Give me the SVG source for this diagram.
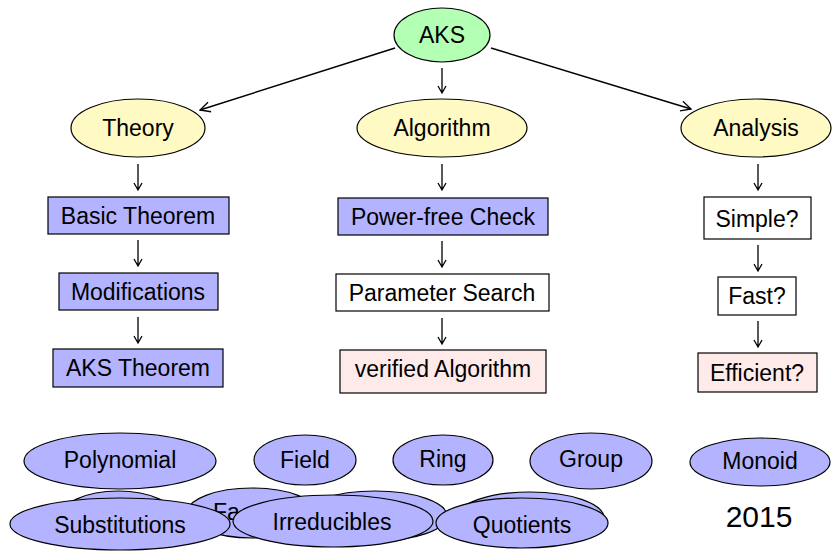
<svg xmlns="http://www.w3.org/2000/svg" width="832" height="551" viewBox="0 0 832 551">
<defs>
<marker id="ah" viewBox="0 0 12 12" refX="11" refY="6" markerWidth="12" markerHeight="12" markerUnits="userSpaceOnUse" orient="auto">
<path d="M1,1 L11,6 L1,11" fill="none" stroke="#000" stroke-width="1.3"/>
</marker>
</defs>
<style>
text{font-family:"Liberation Sans",Arial,sans-serif;font-size:23px;fill:#000;text-anchor:middle}
.g{fill:#b3ffb3;stroke:#000;stroke-width:1.2}
.y{fill:#fff9c4;stroke:#000;stroke-width:1.2}
.p{fill:#b3b3ff;stroke:#000;stroke-width:1.2}
.w{fill:#fff;stroke:#000;stroke-width:1.2}
.k{fill:#ffeaea;stroke:#000;stroke-width:1.2}
.c{fill:none;stroke:#000;stroke-width:1.5}
.v{fill:none;stroke:#000;stroke-width:1.3}
</style>
<g id="connectors">
<path class="c" d="M395,48 L200,110" marker-end="url(#ah)"/>
<path class="c" d="M491,48 L691,109" marker-end="url(#ah)"/>
<path class="v" d="M442,68 V93 M438,86 L442,93 L446,86"/>
<path class="v" d="M138,164 V190 M134,183 L138,190 L142,183"/>
<path class="v" d="M138,240 V266 M134,259 L138,266 L142,259"/>
<path class="v" d="M138,317 V343 M134,336 L138,343 L142,336"/>
<path class="v" d="M442,164 V190 M438,183 L442,190 L446,183"/>
<path class="v" d="M442,241 V267 M438,260 L442,267 L446,260"/>
<path class="v" d="M442,318 V344 M438,337 L442,344 L446,337"/>
<path class="v" d="M758,164 V190 M754,183 L758,190 L762,183"/>
<path class="v" d="M758,245 V271 M754,264 L758,271 L762,264"/>
<path class="v" d="M758,321 V347 M754,340 L758,347 L762,340"/>
</g>
<g id="aks"><ellipse class="g" cx="442" cy="35" rx="48" ry="27"/><text x="442" y="43">AKS</text></g>
<g id="theory"><ellipse class="y" cx="138" cy="128" rx="67" ry="29"/><text x="138" y="136">Theory</text></g>
<g id="algorithm"><ellipse class="y" cx="442" cy="128" rx="85" ry="29"/><text x="442" y="136">Algorithm</text></g>
<g id="analysis"><ellipse class="y" cx="756" cy="128" rx="75" ry="29"/><text x="756" y="136">Analysis</text></g>
<g id="basic"><rect class="p" x="48" y="197" width="181" height="37"/><text x="138" y="224">Basic Theorem</text></g>
<g id="modifications"><rect class="p" x="59" y="273" width="159" height="37"/><text x="138" y="300">Modifications</text></g>
<g id="akstheorem"><rect class="p" x="53" y="349" width="170" height="38"/><text x="138" y="376">AKS Theorem</text></g>
<g id="powerfree"><rect class="p" x="338" y="198" width="210" height="37"/><text x="443" y="225">Power-free Check</text></g>
<g id="paramsearch"><rect class="w" x="336" y="274" width="213" height="37"/><text x="442" y="301">Parameter Search</text></g>
<g id="verified"><rect class="k" x="340" y="350" width="206" height="43"/><text x="443" y="377">verified Algorithm</text></g>
<g id="simple"><rect class="w" x="704" y="197" width="107" height="42"/><text x="757" y="227">Simple?</text></g>
<g id="fast"><rect class="w" x="718" y="277" width="78" height="38"/><text x="757" y="304">Fast?</text></g>
<g id="efficient"><rect class="k" x="698" y="353" width="119" height="39"/><text x="757" y="381">Efficient?</text></g>
<g id="polynomial"><ellipse class="p" cx="120" cy="461" rx="96" ry="28"/><text x="120" y="468">Polynomial</text></g>
<g id="field"><ellipse class="p" cx="305" cy="460" rx="51" ry="25"/><text x="305" y="468">Field</text></g>
<g id="ring"><ellipse class="p" cx="443" cy="460" rx="50" ry="25"/><text x="443" y="467">Ring</text></g>
<g id="group"><ellipse class="p" cx="591" cy="461" rx="61" ry="28"/><text x="591" y="467">Group</text></g>
<g id="monoid"><ellipse class="p" cx="760" cy="462" rx="70" ry="24"/><text x="760" y="469">Monoid</text></g>
<g id="hidden1"><ellipse class="p" cx="118" cy="518" rx="58" ry="27"/></g>
<g id="factors"><ellipse class="p" cx="252" cy="513" rx="65" ry="25"/><text x="213" y="520" style="text-anchor:start">Fa</text></g>
<g id="hidden2"><ellipse class="p" cx="375" cy="516" rx="72" ry="25"/></g>
<g id="hidden3"><ellipse class="p" cx="530" cy="518" rx="74" ry="26"/></g>
<g id="substitutions"><ellipse class="p" cx="120" cy="524" rx="110" ry="26"/><text x="120" y="533">Substitutions</text></g>
<g id="irreducibles"><ellipse class="p" cx="333" cy="521" rx="100" ry="26"/><text x="332" y="530">Irreducibles</text></g>
<g id="quotients"><ellipse class="p" cx="522" cy="523" rx="86" ry="25"/><text x="522" y="533">Quotients</text></g>
<text x="759" y="527" style="font-size:30px">2015</text>
</svg>
